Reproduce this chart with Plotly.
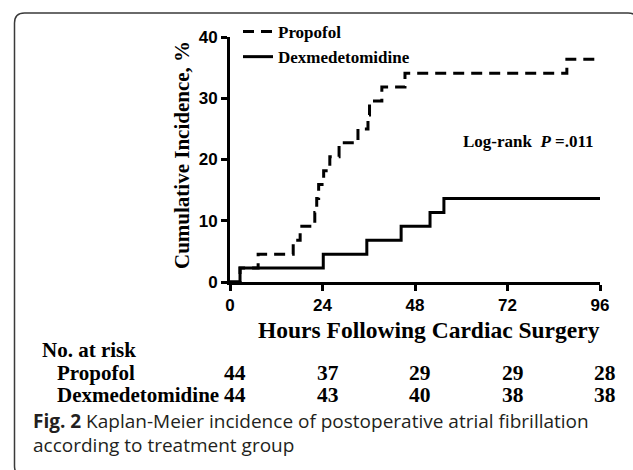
import plotly.graph_objects as go

# ---- data ----
propofol_time = [0, 2.6, 7.3, 16.4, 18.2, 22.0, 22.5, 23.0, 24.3, 25.9, 28.3, 33.2, 35.8, 36.2, 39.4, 45.4, 87.4, 96]
propofol_inc = [0, 2.27, 4.55, 6.82, 9.09, 11.36, 13.64, 15.91, 18.18, 20.45, 22.73, 25.0, 27.27, 29.55, 31.82, 34.09, 36.36, 36.36]
dex_time = [0, 2.6, 24.2, 35.5, 44.4, 51.9, 55.5, 96]
dex_inc = [0, 2.27, 4.55, 6.82, 9.09, 11.36, 13.64, 13.64]

x_ticks = [0, 24, 48, 72, 96]
y_ticks = [0, 10, 20, 30, 40]
risk_groups = ["Propofol", "Dexmedetomidine"]
risk_propofol = [44, 37, 29, 29, 28]
risk_dex = [44, 43, 40, 38, 38]

W, H = 633, 470
L, R, T, B = 230, 600, 37, 282  # plot area in pixels


def px(x):
    return (x - L) / (R - L)


def py(y):
    return (B - y) / (B - T)


SERIF = "Liberation Serif"
SANS = "Liberation Sans"

fig = go.Figure()
fig.add_trace(go.Scatter(
    x=propofol_time, y=propofol_inc, mode="lines", line_shape="hv",
    name="Propofol", line=dict(color="black", width=3, dash="11px,7px"),
))
fig.add_trace(go.Scatter(
    x=dex_time, y=dex_inc, mode="lines", line_shape="hv",
    name="Dexmedetomidine", line=dict(color="black", width=3),
))

annotations = []
# axis titles
annotations.append(dict(
    x=px(429), y=py(330), xref="paper", yref="paper", showarrow=False,
    text="Hours Following Cardiac Surgery", xanchor="center", yanchor="middle",
    font=dict(family=SERIF, size=23.5, color="black", weight="bold")))
annotations.append(dict(
    x=px(182), y=py(155), xref="paper", yref="paper", showarrow=False,
    text="Cumulative Incidence, %", textangle=-90, xanchor="center", yanchor="middle",
    font=dict(family=SERIF, size=21, color="black", weight="bold")))
# log-rank
annotations.append(dict(
    x=px(461), y=py(141), xref="paper", yref="paper", showarrow=False,
    text="Log-rank  <i>P</i> =.011", xanchor="left", yanchor="middle",
    font=dict(family=SERIF, size=17, color="black", weight="bold")))
# risk table
annotations.append(dict(
    x=px(40), y=py(350), xref="paper", yref="paper", showarrow=False,
    text="No. at risk", xanchor="left", yanchor="middle",
    font=dict(family=SERIF, size=21, color="black", weight="bold")))
row_y = [373, 395]
for name, vals, yy in zip(risk_groups, [risk_propofol, risk_dex], row_y):
    annotations.append(dict(
        x=px(55), y=py(yy), xref="paper", yref="paper", showarrow=False,
        text=name, xanchor="left", yanchor="middle",
        font=dict(family=SERIF, size=21, color="black", weight="bold")))
    for t, v in zip(x_ticks, vals):
        annotations.append(dict(
            x=t, y=py(yy), xref="x", yref="paper", showarrow=False, xshift=5,
            text=str(v), xanchor="center", yanchor="middle",
            font=dict(family=SERIF, size=21.5, color="black", weight="bold")))
# caption
annotations.append(dict(
    x=px(31), y=py(421), xref="paper", yref="paper", showarrow=False,
    text="<b>Fig. 2</b> Kaplan-Meier incidence of postoperative atrial fibrillation",
    xanchor="left", yanchor="middle",
    font=dict(family="Open Sans", size=19, color="#231f20")))
annotations.append(dict(
    x=px(31), y=py(445), xref="paper", yref="paper", showarrow=False,
    text="according to treatment group",
    xanchor="left", yanchor="middle",
    font=dict(family="Open Sans", size=19, color="#231f20")))

# rounded frame
fx0, fy0, fx1, fy1, r = 14.5, 13, 638, 476, 10
path = (
    f"M {px(fx0 + r)},{py(fy0)} L {px(fx1 - r)},{py(fy0)} "
    f"Q {px(fx1)},{py(fy0)} {px(fx1)},{py(fy0 + r)} "
    f"L {px(fx1)},{py(fy1 - r)} Q {px(fx1)},{py(fy1)} {px(fx1 - r)},{py(fy1)} "
    f"L {px(fx0 + r)},{py(fy1)} Q {px(fx0)},{py(fy1)} {px(fx0)},{py(fy1 - r)} "
    f"L {px(fx0)},{py(fy0 + r)} Q {px(fx0)},{py(fy0)} {px(fx0 + r)},{py(fy0)} Z"
)
shapes = [dict(type="path", xref="paper", yref="paper", path=path,
               line=dict(color="#3a3a3a", width=1.5))]

fig.update_layout(
    width=W, height=H,
    margin=dict(l=L, r=W - R, t=T, b=H - B, pad=0),
    paper_bgcolor="white", plot_bgcolor="white",
    showlegend=True,
    legend=dict(x=px(238), y=py(14), xanchor="left", yanchor="top",
                bgcolor="rgba(0,0,0,0)", borderwidth=0,
                font=dict(family=SERIF, size=17, color="black", weight="bold"),
                tracegroupgap=0),
    annotations=annotations,
    shapes=shapes,
)
fig.update_xaxes(
    range=[0, 96], tickvals=x_ticks, ticktext=[str(t) for t in x_ticks],
    showgrid=False, zeroline=False, showline=True, linecolor="black", linewidth=3,
    ticks="outside", ticklen=6, tickwidth=3, tickcolor="black",
    tickfont=dict(family=SANS, size=17, color="black", weight="bold"),
)
fig.update_yaxes(
    range=[0, 40], tickvals=y_ticks, ticktext=[str(t) for t in y_ticks],
    showgrid=False, zeroline=False, showline=True, linecolor="black", linewidth=3,
    ticks="outside", ticklen=6, tickwidth=3, tickcolor="black",
    tickfont=dict(family=SANS, size=17, color="black", weight="bold"),
)

fig.write_html("out.html", config={"displayModeBar": False},
               post_script="document.body.style.margin='0px';")
